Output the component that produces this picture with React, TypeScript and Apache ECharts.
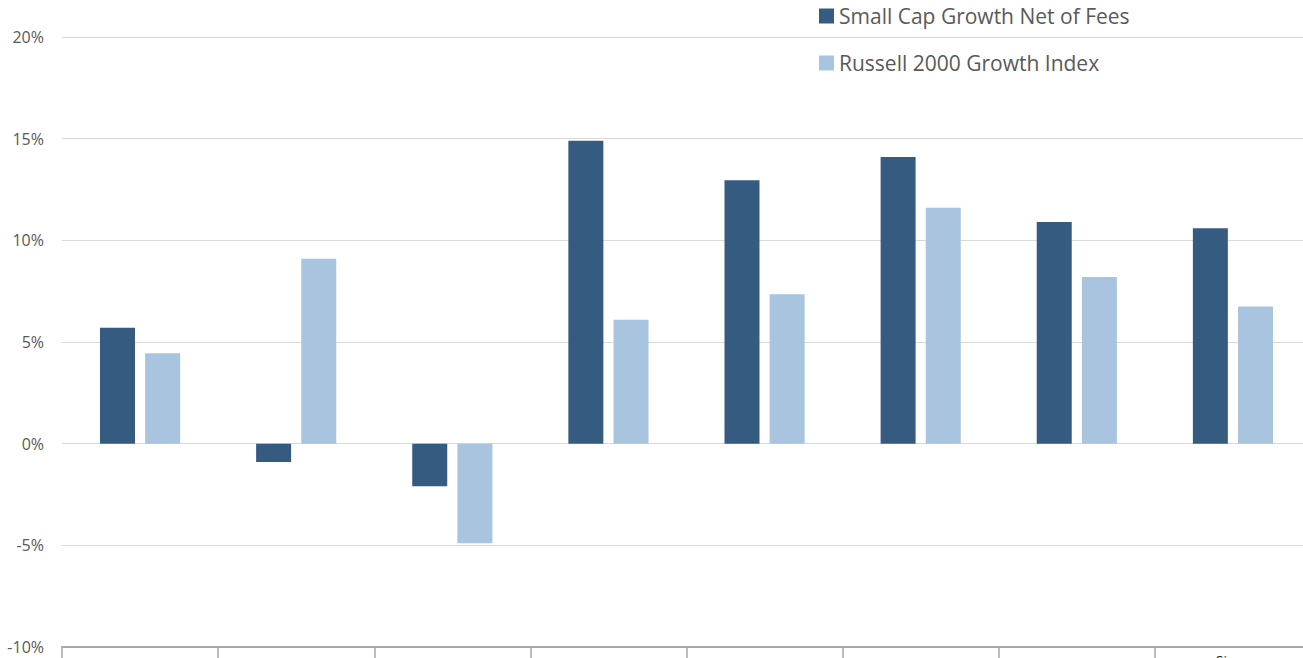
import React, { useEffect, useRef } from "react";
import * as echarts from "echarts";

const categories = ["Quarter", "YTD", "1 Year", "3 Years", "5 Years", "7 Years", "10 Years", "Since\nInception"];
const seriesNames = ["Small Cap Growth Net of Fees", "Russell 2000 Growth Index"];
const smallCapGrowth = [5.7, -0.9, -2.1, 14.9, 12.95, 14.1, 10.9, 10.6];
const russell2000Growth = [4.45, 9.1, -4.9, 6.1, 7.35, 11.6, 8.2, 6.75];
const colors = ["#365b80", "#a9c4de"];

export default function App() {
  const ref = useRef<HTMLDivElement>(null);
  useEffect(() => {
    if (!ref.current) return;
    const chart = echarts.init(ref.current, null, { renderer: "svg" });
    chart.setOption({
      animation: false,
      backgroundColor: "#ffffff",
      textStyle: { fontFamily: "Open Sans" },
      legend: {
        orient: "vertical",
        left: 819,
        top: 4,
        padding: 0,
        itemWidth: 15,
        itemHeight: 15,
        itemGap: 23,
        icon: "rect",
        data: seriesNames,
        textStyle: { fontSize: 21, color: "#595959", lineHeight: 24, fontFamily: "Open Sans" },
      },
      grid: { left: 62, right: -8, top: 37, bottom: 11, containLabel: false, outerBoundsMode: "none" },
      xAxis: {
        type: "category",
        data: categories,
        axisLine: { onZero: false, lineStyle: { color: "#a6a6a6", width: 2 } },
        axisTick: { show: true, length: 15, lineStyle: { color: "#a6a6a6", width: 1.5 } },
        axisLabel: {
          color: "#262626",
          fontSize: 14,
          lineHeight: 16,
          margin: 21,
          verticalAlign: "middle",
          interval: 0,
        },
      },
      yAxis: {
        type: "value",
        min: -10,
        max: 20,
        interval: 5,
        axisLine: { show: false },
        axisTick: { show: false },
        axisLabel: { formatter: (v: number) => `${v}%`, color: "#595959", fontSize: 16, margin: 18 },
        splitLine: { lineStyle: { color: "#d9d9d9", width: 1 } },
      },
      series: [
        {
          name: seriesNames[0],
          type: "bar",
          data: smallCapGrowth,
          barWidth: 35,
          barGap: "29%",
          itemStyle: { color: colors[0] },
        },
        {
          name: seriesNames[1],
          type: "bar",
          data: russell2000Growth,
          barWidth: 35,
          itemStyle: { color: colors[1] },
        },
      ],
    });
    return () => chart.dispose();
  }, []);
  return (
    <div
      ref={ref}
      style={{ position: "absolute", left: 0, top: 0, width: 1303, height: 658, background: "#fff" }}
    />
  );
}
